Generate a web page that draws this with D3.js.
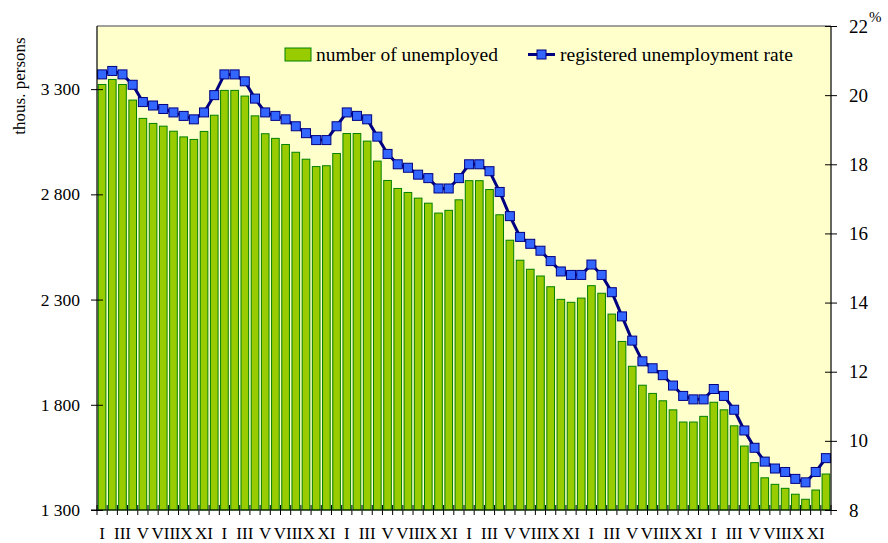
<!DOCTYPE html>
<html>
<head>
<meta charset="utf-8">
<script src="https://cdn.jsdelivr.net/npm/d3@7"></script>
<style>
  body { margin: 0; background: #fff; }
  text { font-family: "Liberation Serif", "Times New Roman", serif; fill: #000; }
</style>
</head>
<body>
<svg width="888" height="543"></svg>
<script>
// months shown along the bottom, repeated for each of 6 years
var monthLabels = ['I', 'II', 'III', 'IV', 'V', 'VI', 'VII', 'VIII', 'IX', 'X', 'XI', 'XII']
var years = [1, 2, 3, 4, 5, 6]

// number of unemployed, thousands
var unemployed = [
  3322, 3346, 3322, 3248, 3161, 3137, 3124, 3100, 3073, 3061, 3099, 3176,
  3294, 3294, 3267, 3173, 3088, 3066, 3037, 3000, 2967, 2932, 2936, 2994,
  3089, 3089, 3053, 2958, 2866, 2828, 2809, 2782, 2758, 2711, 2724, 2774,
  2865, 2865, 2823, 2703, 2582, 2487, 2444, 2412, 2361, 2301, 2287, 2307,
  2366, 2330, 2231, 2101, 1983, 1893, 1854, 1819, 1776, 1718, 1718, 1745,
  1812, 1776, 1700, 1604, 1525, 1453, 1422, 1403, 1375, 1351, 1395, 1471
]

// registered unemployment rate, %
var rate = [
  20.6, 20.7, 20.6, 20.3, 19.8, 19.7, 19.6, 19.5, 19.4, 19.3, 19.5, 20.0,
  20.6, 20.6, 20.4, 19.9, 19.5, 19.4, 19.3, 19.1, 18.9, 18.7, 18.7, 19.1,
  19.5, 19.4, 19.3, 18.8, 18.3, 18.0, 17.9, 17.7, 17.6, 17.3, 17.3, 17.6,
  18.0, 18.0, 17.8, 17.2, 16.5, 15.9, 15.7, 15.5, 15.2, 14.9, 14.8, 14.8,
  15.1, 14.8, 14.3, 13.6, 12.9, 12.3, 12.1, 11.9, 11.6, 11.3, 11.2, 11.2,
  11.5, 11.3, 10.9, 10.3, 9.8, 9.4, 9.2, 9.1, 8.9, 8.8, 9.1, 9.5
]

var leftTicks = [1300, 1800, 2300, 2800, 3300]
var rightTicks = [8, 10, 12, 14, 16, 18, 20, 22]

// build one row per month
var data = []
years.forEach(function(y, yi) {
  monthLabels.forEach(function(m, mi) {
    var i = yi * 12 + mi
    data.push({ key: y + '-' + m, month: m, mi: mi, value: unemployed[i], rate: rate[i] })
  })
})

var plotLeft = 97, plotRight = 831, plotTop = 26, plotBottom = 510

var svg = d3.select('svg')

var x = d3.scaleBand()
  .domain(data.map(function(d) { return d.key }))
  .range([plotLeft, plotRight])
  .paddingInner(0.25)
  .paddingOuter(0.125)

var yL = d3.scaleLinear().domain([1300, 3600]).range([plotBottom, plotTop])
var yR = d3.scaleLinear().domain([8, 22]).range([plotBottom, plotTop])

// plot background
svg.append('rect')
  .attr('x', plotLeft).attr('y', plotTop)
  .attr('width', plotRight - plotLeft).attr('height', plotBottom - plotTop)
  .attr('fill', '#ffffcc')

svg.append('line')
  .attr('x1', plotLeft).attr('x2', plotRight).attr('y1', plotTop).attr('y2', plotTop)
  .attr('stroke', '#808080').attr('stroke-width', 1.5)

// bars
svg.append('g')
  .selectAll('rect')
  .data(data)
  .enter()
  .append('rect')
  .attr('x', function(d) { return x(d.key) })
  .attr('width', x.bandwidth())
  .attr('y', function(d) { return yL(d.value) })
  .attr('height', function(d) { return plotBottom - yL(d.value) })
  .attr('fill', '#99cc00')
  .attr('stroke', '#008000')
  .attr('stroke-width', 1)

// rate line
var line = d3.line()
  .x(function(d) { return x(d.key) + x.bandwidth() / 2 })
  .y(function(d) { return yR(d.rate) })

svg.append('path')
  .datum(data)
  .attr('d', line)
  .attr('fill', 'none')
  .attr('stroke', '#000080')
  .attr('stroke-width', 3)

svg.append('g')
  .selectAll('rect')
  .data(data)
  .enter()
  .append('rect')
  .attr('x', function(d) { return x(d.key) + x.bandwidth() / 2 - 4.5 })
  .attr('y', function(d) { return yR(d.rate) - 4.5 })
  .attr('width', 9)
  .attr('height', 9)
  .attr('fill', '#3366ff')
  .attr('stroke', '#000080')
  .attr('stroke-width', 1)

// left axis
var axL = svg.append('g')
  .attr('transform', 'translate(' + plotLeft + ',0)')
  .call(d3.axisLeft(yL).tickValues(leftTicks).tickSize(6).tickPadding(11)
    .tickFormat(function(d) { return String(d).slice(0, 1) + ' ' + String(d).slice(1) }))
axL.select('.domain').remove()
axL.selectAll('.tick line').attr('x1', -6).attr('x2', 6).attr('stroke', '#000')
axL.selectAll('text').style('font-size', '17.5px')
svg.append('line').attr('x1', plotLeft).attr('x2', plotLeft).attr('y1', plotTop).attr('y2', plotBottom)
  .attr('stroke', '#000').attr('stroke-width', 1.2)

// right axis
var axR = svg.append('g')
  .attr('transform', 'translate(' + plotRight + ',0)')
  .call(d3.axisRight(yR).tickValues(rightTicks).tickSize(6).tickPadding(12))
axR.select('.domain').remove()
axR.selectAll('.tick line').attr('x1', -6).attr('x2', 6).attr('stroke', '#000')
axR.selectAll('text').style('font-size', '19px')
svg.append('line').attr('x1', plotRight).attr('x2', plotRight).attr('y1', plotTop).attr('y2', plotBottom)
  .attr('stroke', '#000').attr('stroke-width', 1.2)
svg.selectAll('g').attr('font-family', null).attr('font-size', null)

// bottom axis: ticks at month boundaries, labels on odd months
var step = x.step()
var xb = svg.append('g')
var bottomTicks = d3.range(data.length + 1)
xb.selectAll('line.t')
  .data(bottomTicks)
  .enter()
  .append('line')
  .attr('x1', function(i) { return plotLeft + i * step })
  .attr('x2', function(i) { return plotLeft + i * step })
  .attr('y1', plotBottom - 5).attr('y2', plotBottom + 5)
  .attr('stroke', '#000')
svg.append('line').attr('x1', plotLeft - 6).attr('x2', plotRight).attr('y1', plotBottom).attr('y2', plotBottom)
  .attr('stroke', '#000').attr('stroke-width', 1.2)

xb.selectAll('text')
  .data(data.filter(function(d) { return d.mi % 2 === 0 }))
  .enter()
  .append('text')
  .attr('x', function(d) { return x(d.key) + x.bandwidth() / 2 })
  .attr('y', 539)
  .attr('text-anchor', 'middle')
  .style('font-size', '17px')
  .text(function(d) { return d.month })

// axis titles
svg.append('text')
  .attr('transform', 'translate(25,86) rotate(-90)')
  .attr('text-anchor', 'middle')
  .style('font-size', '17px')
  .text('thous. persons')

svg.append('text')
  .attr('x', 869).attr('y', 22)
  .style('font-size', '15px')
  .text('%')

// legend
var lg = svg.append('g')
lg.append('rect')
  .attr('x', 285).attr('y', 48).attr('width', 26).attr('height', 13)
  .attr('fill', '#99cc00').attr('stroke', '#008000')
lg.append('text').attr('x', 316).attr('y', 61).style('font-size', '19.5px').text('number of unemployed')
lg.append('line')
  .attr('x1', 528).attr('x2', 555).attr('y1', 54.5).attr('y2', 54.5)
  .attr('stroke', '#000080').attr('stroke-width', 3)
lg.append('rect')
  .attr('x', 537).attr('y', 50).attr('width', 9).attr('height', 9)
  .attr('fill', '#3366ff').attr('stroke', '#000080')
lg.append('text').attr('x', 560).attr('y', 61).style('font-size', '19.5px').text('registered unemployment rate')
</script>
</body>
</html>
